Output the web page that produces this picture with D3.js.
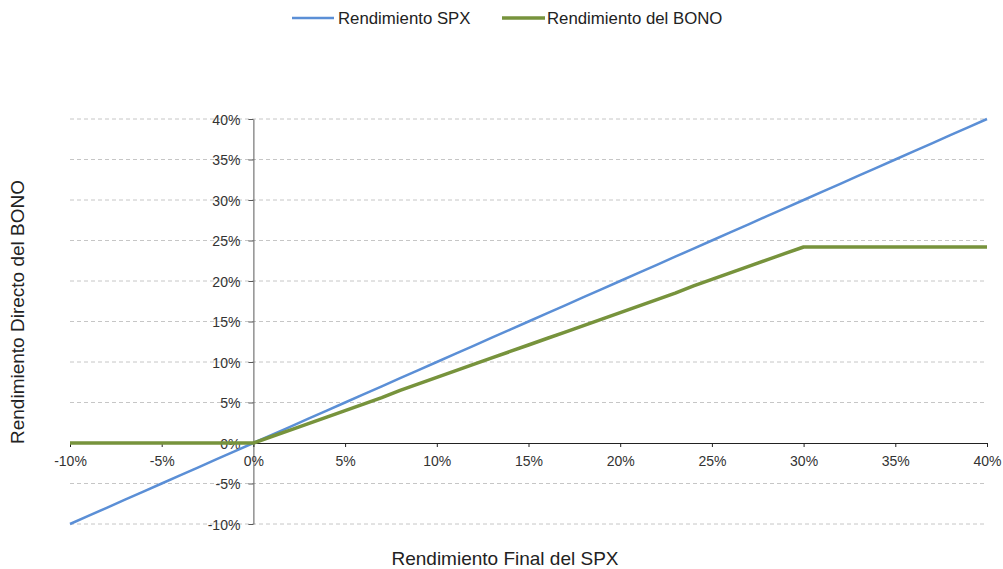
<!DOCTYPE html>
<html><head><meta charset="utf-8">
<script src="https://cdn.jsdelivr.net/npm/d3@7"></script>
<style>body{margin:0;background:#fff}svg{display:block}text{font-family:"Liberation Sans",Arial,sans-serif}</style>
</head><body>
<svg id="c" width="1003" height="569"></svg>
<script>
const seriesNames = ["Rendimiento SPX", "Rendimiento del BONO"];
const spxFinal = [-10,-9,-8,-7,-6,-5,-4,-3,-2,-1,0,1,2,3,4,5,6,7,8,9,10,11,12,13,14,15,16,17,18,19,20,21,22,23,24,25,26,27,28,29,30,31,32,33,34,35,36,37,38,39,40];
const spxReturn = [-10,-9,-8,-7,-6,-5,-4,-3,-2,-1,0,1,2,3,4,5,6,7,8,9,10,11,12,13,14,15,16,17,18,19,20,21,22,23,24,25,26,27,28,29,30,31,32,33,34,35,36,37,38,39,40];
const bonoReturn = [0,0,0,0,0,0,0,0,0,0,0,0.8,1.6,2.4,3.2,4.0,4.8,5.6,6.5,7.3,8.1,8.9,9.7,10.5,11.3,12.1,12.9,13.7,14.5,15.3,16.1,16.9,17.7,18.5,19.4,20.2,21.0,21.8,22.6,23.4,24.2,24.2,24.2,24.2,24.2,24.2,24.2,24.2,24.2,24.2,24.2];
const xTicks = [-10,-5,0,5,10,15,20,25,30,35,40];
const yTicks = [-10,-5,0,5,10,15,20,25,30,35,40];
const colors = ["#5B8FD6", "#77933C"];

const svg = d3.select("#c");
const x = d3.scaleLinear().domain([-10,40]).range([70,987]);
const y = d3.scaleLinear().domain([-10,40]).range([524,119]);
const fmt = d => d + "%";

// gridlines
svg.append("g").selectAll("line").data(yTicks.filter(d=>d!==0)).join("line")
  .attr("x1", x(-10)).attr("x2", x(40)).attr("y1", d=>y(d)).attr("y2", d=>y(d))
  .attr("stroke", "#c6c6c6").attr("stroke-dasharray", "4,3").attr("stroke-width", 1);

// y axis at x=0
const ya = svg.append("g").attr("transform", `translate(${x(0)},0)`)
  .call(d3.axisLeft(y).tickValues(yTicks).tickFormat(fmt).tickSize(5).tickSizeOuter(0));
ya.select(".domain").attr("stroke", "#595959");
ya.selectAll(".tick line").attr("stroke", "#595959");
ya.selectAll(".tick text").attr("x", -13).attr("dy", "0.36em").attr("font-size", 14).attr("fill", "#333").attr("font-family", "Liberation Sans, Arial, sans-serif");

// x axis at y=0
const xa = svg.append("g").attr("transform", `translate(0,${y(0)})`)
  .call(d3.axisBottom(x).tickValues(xTicks).tickFormat(fmt).tickSize(4).tickSizeOuter(0));
xa.select(".domain").attr("stroke", "#222");
xa.selectAll(".tick line").attr("stroke", "#222");
xa.selectAll(".tick text").attr("y", 13).attr("font-size", 14).attr("fill", "#333").attr("font-family", "Liberation Sans, Arial, sans-serif");

// lines
const line = d3.line().x((d,i)=>x(spxFinal[i])).y(d=>y(d));
svg.append("path").attr("d", line(spxReturn)).attr("fill","none").attr("stroke", colors[0]).attr("stroke-width", 2.5);
svg.append("path").attr("d", line(bonoReturn)).attr("fill","none").attr("stroke", colors[1]).attr("stroke-width", 3.5).attr("stroke-linejoin","round");

// legend
const leg = [{x1:292,x2:334,tx:338},{x1:502,x2:545,tx:547}];
seriesNames.forEach((n,i)=>{
  svg.append("line").attr("x1",leg[i].x1).attr("x2",leg[i].x2).attr("y1",18).attr("y2",18)
    .attr("stroke",colors[i]).attr("stroke-width", i===0?2.5:3.5);
  svg.append("text").attr("x",leg[i].tx).attr("y",24).attr("font-size",16.8).attr("fill","#222").text(n);
});

// axis titles
svg.append("text").attr("x",505).attr("y",565).attr("text-anchor","middle").attr("font-size",19).attr("fill","#222").text("Rendimiento Final del SPX");
svg.append("text").attr("transform","translate(24,312) rotate(-90)").attr("text-anchor","middle").attr("font-size",19).attr("fill","#222").text("Rendimiento Directo del BONO");
</script>
</body></html>
